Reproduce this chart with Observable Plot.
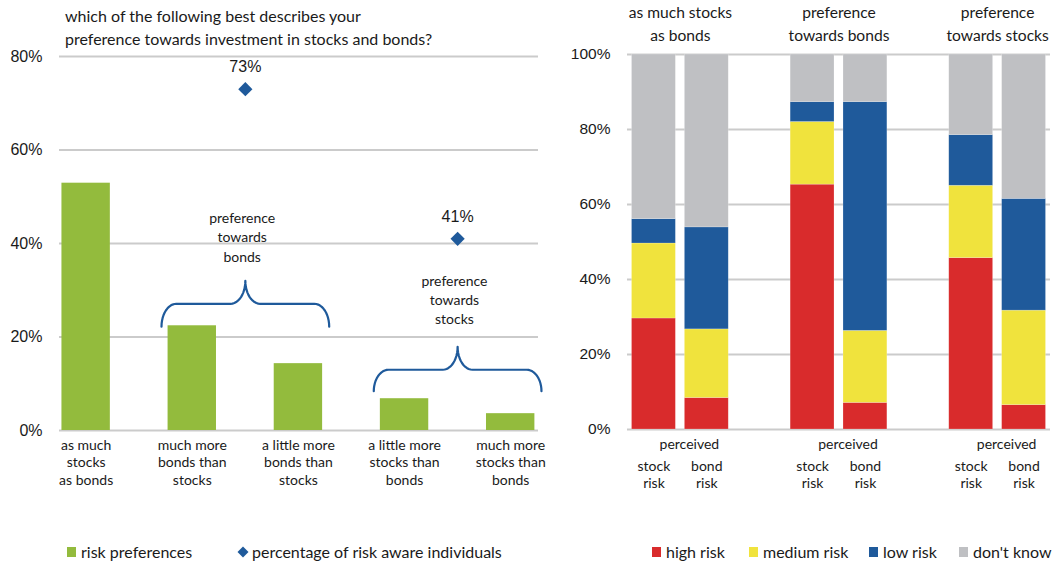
<!DOCTYPE html>
<html>
<head>
<meta charset="utf-8">
<script src="https://cdn.jsdelivr.net/npm/d3@7"></script>
<script src="https://cdn.jsdelivr.net/npm/@observablehq/plot@0.6"></script>
<style>
  body { margin: 0; background: #fff; }
  #root { position: relative; width: 1061px; height: 562px; overflow: hidden; font-family: Lato, "Open Sans", sans-serif; color: #1a1a1a; }
  #left, #right { position: absolute; top: 0; }
  #left { left: 0; }
  #right { left: 560px; }
  .title { position: absolute; left: 65px; top: 4px; font-size: 16px; line-height: 23px; white-space: nowrap; }
  .leg { position: absolute; top: 543px; height: 18px; font-size: 16px; line-height: 18px; display: flex; align-items: center; white-space: nowrap; }
  .sw { width: 9px; height: 10px; margin-right: 5px; flex: none; }
</style>
</head>
<body>
<div id="root">
  <div id="left"></div>
  <div id="right"></div>
  <div class="title">which of the following best describes your<br>preference towards investment in stocks and bonds?</div>
  <div id="legends"></div>
</div>
<script>
// ---------- data: left panel ----------
const categories = [
  "as much\nstocks\nas bonds",
  "much more\nbonds than\nstocks",
  "a little more\nbonds than\nstocks",
  "a little more\nstocks than\nbonds",
  "much more\nstocks than\nbonds"
];
const riskPreferences = [52.9, 22.4, 14.3, 6.8, 3.6];
const preferenceGroups = ["preference\ntowards\nbonds", "preference\ntowards\nstocks"];
const preferenceMembers = [[1, 2], [3, 4]];
const riskAware = [73, 41];

// ---------- data: right panel ----------
const groupLabels = ["as much stocks\nas bonds", "preference\ntowards bonds", "preference\ntowards stocks"];
const assetLabels = ["stock\nrisk", "bond\nrisk"];
const riskLevels = ["high risk", "medium risk", "low risk", "don't know"];
const highRisk   = [29.6,  8.4, 65.3,  7.1, 45.7,  6.5];
const mediumRisk = [20.0, 18.3, 16.7, 19.2, 19.3, 25.2];
const lowRisk    = [ 6.5, 27.2,  5.3, 61.0, 13.5, 29.8];
const dontKnow   = [43.9, 46.1, 12.7, 12.7, 21.5, 38.5];

// ---------- styles ----------
const GREEN = "#93bb3d", BLUE = "#1f5a9b";
const riskColors = ["#d92b2c", "#f0e33d", "#1f5a9b", "#bfc0c3"];
const GRID = "#cbcbcb";
const TXT = "#1a1a1a";

// ---------- left chart ----------
const barRows = categories.map((c, i) => ({i, label: c, v: riskPreferences[i]}));
const groupRows = preferenceGroups.map((g, k) => ({
  label: g,
  value: riskAware[k],
  pos: d3.mean(preferenceMembers[k])
}));

function braceCurve(xL, xR, yEnd, yMid, yTip, r) {
  const xM = (xL + xR) / 2, pts = [], N = 12;
  const arc = (cx, cy, rx, ry, a0, a1) => {
    for (let k = 0; k <= N; k++) {
      const a = a0 + (a1 - a0) * k / N;
      pts.push({x: cx + rx * Math.cos(a), y: cy + ry * Math.sin(a)});
    }
  };
  arc(xL + r, yEnd, r, yMid - yEnd, Math.PI, Math.PI / 2);
  arc(xM - r, yTip, r, yTip - yMid, -Math.PI / 2, 0);
  arc(xM + r, yTip, r, yTip - yMid, Math.PI, 1.5 * Math.PI);
  arc(xR - r, yEnd, r, yMid - yEnd, Math.PI / 2, 0);
  return pts;
}
// brace annotation levels (y in %) for each group
const braceLevels = [[22.2, 27.1, 32.0], [8.4, 13.0, 17.9]];
const labelLevels = [41.6, 28.2];
const braces = groupRows.map((g, k) => braceCurve(g.pos - 0.79, g.pos + 0.79, ...braceLevels[k], 0.14)
  .map(p => ({...p, k})));
const braceData = braces.flat();

const leftPlot = Plot.plot({
  width: 560,
  height: 562,
  marginLeft: 59,
  marginRight: 22,
  marginTop: 56,
  marginBottom: 132,
  x: {domain: [-0.251, 4.262], axis: null},
  y: {domain: [0, 80], ticks: [0, 20, 40, 60, 80], tickFormat: d => d + "%", tickSize: 0, tickPadding: 17, label: null},
  style: {fontFamily: "'Liberation Sans', Arial, sans-serif", fontSize: "16px", color: TXT, background: "transparent", overflow: "visible"},
  marks: [
    Plot.ruleY([0, 20, 40, 60, 80], {stroke: GRID, strokeWidth: 2}),
    Plot.rect(barRows, {x1: d => d.i - 0.228, x2: d => d.i + 0.228, y1: 0, y2: "v", fill: GREEN}),
    Plot.text(barRows, {x: "i", y: 0, text: "label", lineAnchor: "top", dy: 6.5, lineHeight: 1.27, fontFamily: "Lato", fontSize: 14, fill: TXT}),
    Plot.line(braceData, {x: "x", y: "y", z: "k", stroke: BLUE, strokeWidth: 2.2, curve: "linear"}),
    Plot.dot(groupRows, {x: "pos", y: "value", symbol: "diamond2", r: 6.4, fill: BLUE, stroke: "none"}),
    Plot.text(groupRows, {x: "pos", y: "value", text: d => d.value + "%", dy: -22, fontSize: 16, fill: TXT}),
    Plot.text(groupRows, {x: d => d.pos - 0.03, y: (d, k) => labelLevels[k], text: "label", lineAnchor: "middle", lineHeight: 1.38, fontFamily: "Lato", fontSize: 14, fill: TXT})
  ]
});
document.getElementById("left").appendChild(leftPlot);

// ---------- right chart ----------
const series = [highRisk, mediumRisk, lowRisk, dontKnow];
const stackRows = [];
for (let b = 0; b < highRisk.length; b++) {
  const g = Math.floor(b / 2), j = b % 2, pos = g * 3 + j;
  let acc = 0;
  riskLevels.forEach((lvl, s) => {
    const v = series[s][b];
    stackRows.push({pos, level: lvl, y1: acc, y2: acc + v});
    acc += v;
  });
}
const assetRows = [];
groupLabels.forEach((gl, g) => assetLabels.forEach((a, j) => assetRows.push({pos: g * 3 + j, label: a})));
const groupRowsR = groupLabels.map((gl, g) => ({pos: g * 3 + 0.5, label: gl}));

const rightPlot = Plot.plot({
  width: 501,
  height: 562,
  marginLeft: 67,
  marginRight: 11,
  marginTop: 54,
  marginBottom: 133,
  x: {domain: [-0.5, 7.5], axis: null},
  y: {domain: [0, 100], ticks: [0, 20, 40, 60, 80, 100], tickFormat: d => d + "%", tickSize: 0, tickPadding: 17, label: null},
  color: {domain: riskLevels, range: riskColors},
  style: {fontFamily: "'Liberation Sans', Arial, sans-serif", fontSize: "15.5px", color: TXT, background: "transparent", overflow: "visible"},
  marks: [
    Plot.ruleY([0, 20, 40, 60, 80, 100], {stroke: GRID, strokeWidth: 2}),
    Plot.rect(stackRows, {x1: d => d.pos - 0.415, x2: d => d.pos + 0.415, y1: "y1", y2: "y2", fill: "level", stroke: "#fff", strokeOpacity: 0.35, strokeWidth: 0.6}),
    Plot.text(groupRowsR, {x: "pos", y: 100, text: "label", lineAnchor: "bottom", dy: -14, lineHeight: 1.42, fontFamily: "Lato", fontSize: 15.6, fill: TXT}),
    Plot.text(groupRowsR, {x: "pos", y: 0, text: () => "perceived", lineAnchor: "top", dy: 10, dx: 9, fontFamily: "Lato", fontSize: 14, fill: TXT}),
    Plot.text(assetRows, {x: "pos", y: 0, text: "label", lineAnchor: "top", dy: 28.5, lineHeight: 1.27, fontFamily: "Lato", fontSize: 14, fill: TXT})
  ]
});
document.getElementById("right").appendChild(rightPlot);

// ---------- legends ----------
const legendItems = [
  {label: "risk preferences", color: GREEN, shape: "square", left: 67},
  {label: "percentage of risk aware individuals", color: BLUE, shape: "diamond", left: 237},
  ...riskLevels.map((l, s) => ({label: l, color: riskColors[s], shape: "square", left: [652, 749, 869, 959][s]}))
];
const legRoot = document.getElementById("legends");
legendItems.forEach(it => {
  const div = document.createElement("div");
  div.className = "leg";
  div.style.left = it.left + "px";
  const sw = it.shape === "square"
    ? `<span class="sw" style="background:${it.color}"></span>`
    : `<svg width="12" height="12" style="margin-right:3px;flex:none"><path d="M6,0.5L11.5,6L6,11.5L0.5,6Z" fill="${it.color}"/></svg>`;
  div.innerHTML = sw + `<span>${it.label}</span>`;
  legRoot.appendChild(div);
});
</script>
</body>
</html>
